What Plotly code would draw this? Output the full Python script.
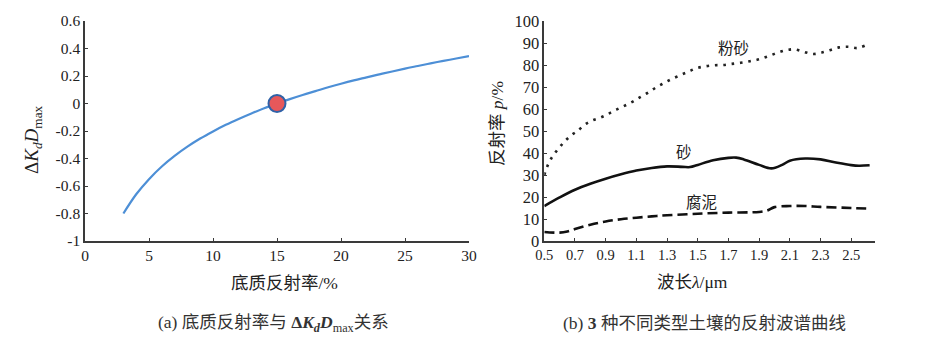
import plotly.graph_objects as go

W, H = 925, 343

# ---- data (a) ----
refl_x = [3, 4, 5, 6, 7, 8, 9, 10, 11, 12, 13, 14, 15, 16, 17, 18, 19, 20,
          21, 22, 23, 24, 25, 26, 27, 28, 29, 30]
dkd_y = [-0.80, -0.66, -0.55, -0.458, -0.381, -0.314, -0.255, -0.203, -0.155,
         -0.112, -0.072, -0.034, 0.0, 0.032, 0.062, 0.09, 0.118, 0.144, 0.168,
         0.19, 0.212, 0.233, 0.254, 0.273, 0.292, 0.31, 0.327, 0.345]
point_x = [15]
point_y = [0]

a_xticks = [0, 5, 10, 15, 20, 25, 30]
a_yticks = [-1, -0.8, -0.6, -0.4, -0.2, 0, 0.2, 0.4, 0.6]
a_yticktext = ["-1", "-0.8", "-0.6", "-0.4", "-0.2", "0", "0.2", "0.4", "0.6"]

# ---- data (b) ----
silt_x = [0.50, 0.52, 0.545, 0.575, 0.61, 0.65, 0.69, 0.72, 0.76, 0.81, 0.87,
          0.92, 0.97, 1.03, 1.08, 1.13, 1.18, 1.23, 1.28, 1.33, 1.39, 1.44,
          1.49, 1.55, 1.61, 1.67, 1.72, 1.78, 1.84, 1.90, 1.96, 2.02, 2.08,
          2.13, 2.19, 2.25, 2.30, 2.36, 2.42, 2.48, 2.54, 2.59]
silt_y = [30, 34, 37.5, 40.5, 43.5, 46.5, 48.8, 50.2, 52.7, 54.7, 56.2, 57.9,
          59.7, 61.7, 63.5, 65.6, 67.6, 69.9, 71.8, 73.6, 75.5, 77.0, 78.5,
          79.4, 79.9, 80.0, 80.5, 81.0, 81.7, 82.6, 84.0, 85.6, 86.8, 87.1,
          86.0, 85.0, 85.5, 86.7, 88.0, 88.3, 87.7, 88.8]
sand_x = [0.5, 0.6, 0.7, 0.8, 0.9, 1.0, 1.1, 1.2, 1.3, 1.4, 1.45, 1.5, 1.6,
          1.7, 1.75, 1.8, 1.9, 1.98, 2.05, 2.1, 2.2, 2.3, 2.4, 2.5, 2.55, 2.62]
sand_y = [15.9, 19.8, 23.3, 26.0, 28.3, 30.3, 32.0, 33.2, 33.9, 33.7, 33.6,
          34.6, 36.7, 37.8, 37.9, 37.1, 34.6, 33.0, 34.6, 36.5, 37.5, 37.1,
          35.7, 34.5, 34.2, 34.4]
mud_x = [0.5, 0.6, 0.65, 0.7, 0.8, 0.9, 1.0, 1.1, 1.2, 1.3, 1.5, 1.7, 1.9,
         1.95, 2.0, 2.1, 2.2, 2.3, 2.5, 2.62]
mud_y = [4.1, 3.8, 4.3, 5.4, 7.4, 8.9, 9.9, 10.6, 11.2, 11.7, 12.4, 12.9,
         13.2, 13.8, 15.4, 15.9, 15.9, 15.5, 15.0, 14.7]

b_xticks = [0.5, 0.7, 0.9, 1.1, 1.3, 1.5, 1.7, 1.9, 2.1, 2.3, 2.5]
b_yticks = [0, 10, 20, 30, 40, 50, 60, 70, 80, 90, 100]

serif = "Liberation Serif, Noto Sans CJK SC, serif"
cjk = "Liberation Serif, Noto Sans CJK SC"
axc = "#3a3a3a"


def px(x):
    return x / W


def py(y):
    return 1 - y / H


fig = go.Figure()

fig.add_trace(go.Scatter(x=refl_x, y=dkd_y, mode="lines", line_shape="spline",
                         line=dict(color="#4d8fd6", width=2.2),
                         xaxis="x", yaxis="y", showlegend=False))
fig.add_trace(go.Scatter(x=point_x, y=point_y, mode="markers",
                         marker=dict(size=17, color="#e6585b",
                                     line=dict(color="#2f62a8", width=2)),
                         xaxis="x", yaxis="y", showlegend=False))

fig.add_trace(go.Scatter(x=silt_x, y=silt_y, mode="lines", line_shape="spline",
                         line=dict(color="#222", width=2.6, dash="2.6px,5.8px"),
                         xaxis="x2", yaxis="y2", showlegend=False))
fig.add_trace(go.Scatter(x=sand_x, y=sand_y, mode="lines", line_shape="spline",
                         line=dict(color="#111", width=2.6),
                         xaxis="x2", yaxis="y2", showlegend=False))
fig.add_trace(go.Scatter(x=mud_x, y=mud_y, mode="lines", line_shape="spline",
                         line=dict(color="#111", width=2.6, dash="10px,5px"),
                         xaxis="x2", yaxis="y2", showlegend=False))

common = dict(showline=True, linecolor=axc, linewidth=1.5, showgrid=False,
              zeroline=False, ticks="inside", ticklen=3, tickcolor=axc,
              tickwidth=1.2, automargin=False)

yb, yt = py(241), py(21)

fig.update_layout(
    width=W, height=H, autosize=False,
    margin=dict(l=0, r=0, t=0, b=0, autoexpand=False),
    paper_bgcolor="white", plot_bgcolor="white",
    xaxis=dict(domain=[px(85), px(469)], range=[0, 30], tickvals=a_xticks,
               tickfont=dict(family=serif, size=15.5, color="#222"), **common),
    yaxis=dict(domain=[yb, yt], range=[-1, 0.6], tickvals=a_yticks,
               ticktext=a_yticktext,
               tickfont=dict(family=serif, size=15.5, color="#222"), **common),
    xaxis2=dict(domain=[px(544.3), px(875)], range=[0.5, 2.655],
                tickvals=b_xticks, anchor="y2",
                tickfont=dict(family=serif, size=14.5, color="#222"), **common),
    yaxis2=dict(domain=[yb, yt], range=[0, 100], tickvals=b_yticks,
                anchor="x2",
                tickfont=dict(family=serif, size=16.5, color="#222"), **common),
)

ann = []


def add(text, x, y, size, angle=0, color="#222", family=cjk):
    ann.append(dict(text=text, x=px(x), y=py(y), xref="paper", yref="paper",
                    showarrow=False, xanchor="center", yanchor="middle",
                    textangle=angle,
                    font=dict(family=family, size=size, color=color)))


add("Δ<i>K</i><sub><i>d</i></sub><i>D</i><sub>max</sub>", 33, 140, 19,
    angle=-90, family=serif)
add("底质反射率/%", 284, 283, 17.5)
add("反射率 <i>p</i>/%", 497, 123, 17.5, angle=-90)
add("波长<i>λ</i>/μm", 692, 282, 17.5)
add("粉砂", 733, 48, 15.5)
add("砂", 684, 153, 15.5)
add("腐泥", 701, 202, 15.5)
add("(a) 底质反射率与 <b>Δ<i>K</i><sub><i>d</i></sub><i>D</i></b><sub>max</sub>关系",
    273, 323, 17.5, color="#333")
add("(b) <b>3</b> 种不同类型土壤的反射波谱曲线", 704, 323, 17.5, color="#333")

fig.update_layout(annotations=ann)

fig.write_html("out.html")
